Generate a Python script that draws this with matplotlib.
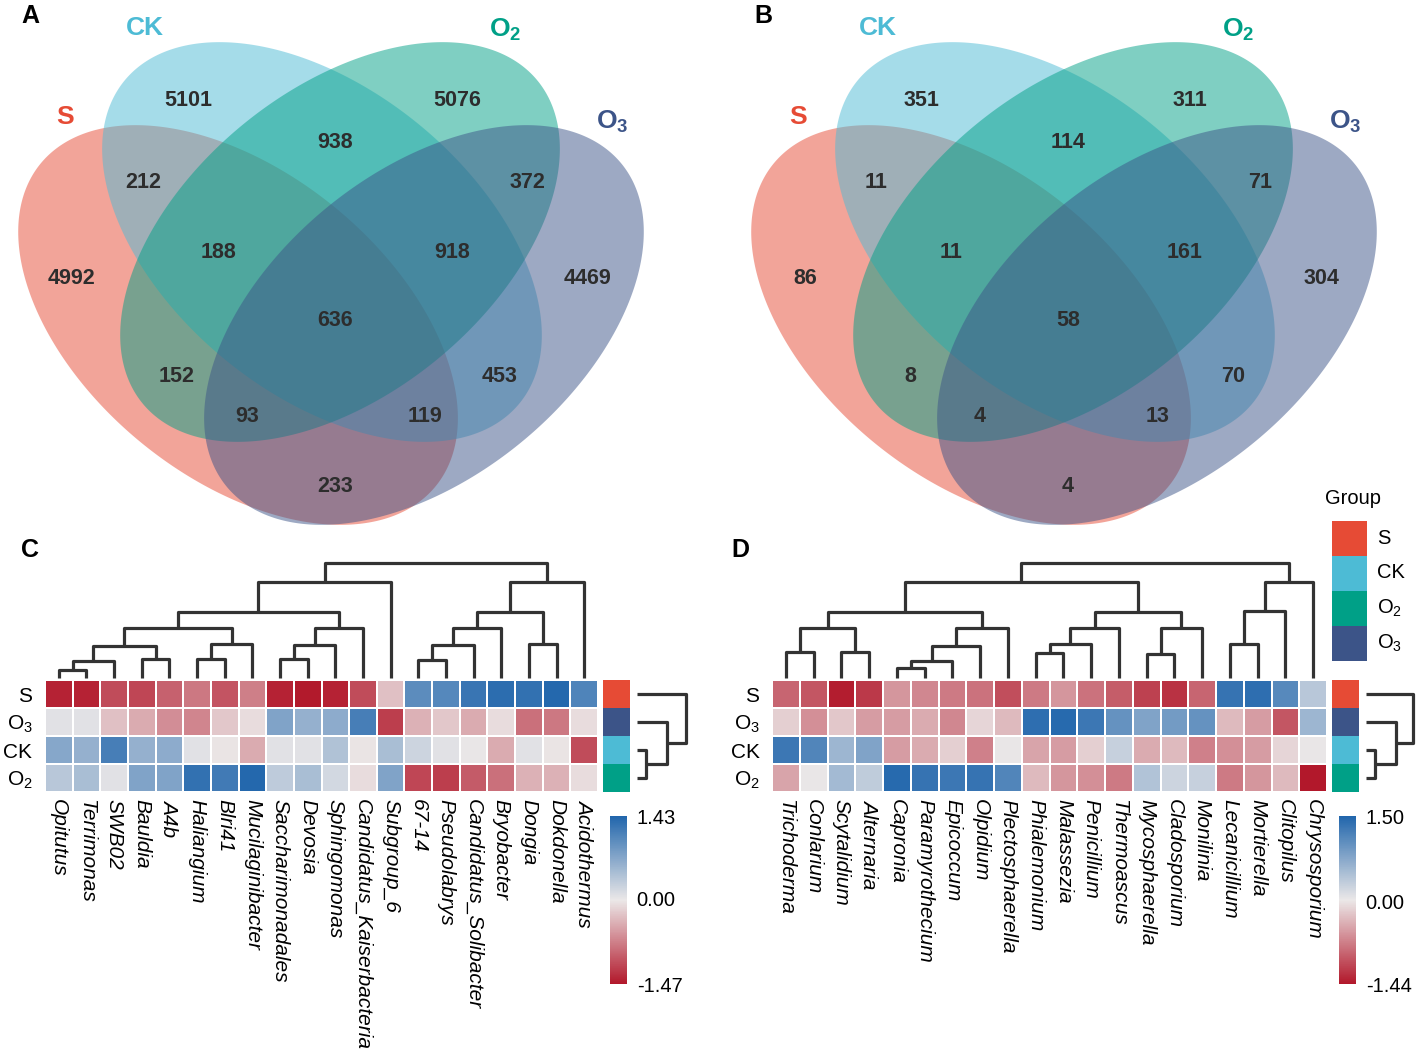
import numpy as np
import matplotlib
matplotlib.use("Agg")
import matplotlib.pyplot as plt
from matplotlib.patches import Rectangle
from matplotlib.colors import LinearSegmentedColormap, Normalize
from matplotlib.cm import ScalarMappable

plt.rcParams['font.family'] = ['Liberation Sans', 'DejaVu Sans']
plt.rcParams['mathtext.default'] = 'regular'

W, H = 1417, 1049

# ---------------- data ----------------
group_names = ["S", "CK", "O$_2$", "O$_3$"]
group_colors = ["#E64B35", "#4DBBD5", "#00A087", "#3C5488"]

# venn counts; region order:
# CK, O2, CK&O2, S&CK, O2&O3, S&CK&O2, CK&O2&O3, S, O3, all, S&O2, CK&O3, S&O2&O3, S&CK&O3, S&O3
venn_bacteria = [5101, 5076, 938, 212, 372, 188, 918, 4992, 4469, 636, 152, 453, 93, 119, 233]
venn_fungi = [351, 311, 114, 11, 71, 11, 161, 86, 304, 58, 8, 70, 4, 13, 4]

heat_rows = ["S", "O$_3$", "CK", "O$_2$"]
heat_row_colors = ["#E64B35", "#3C5488", "#4DBBD5", "#00A087"]

genus_bac = ["Opitutus", "Terrimonas", "SWB02", "Bauldia", "A4b", "Haliangium", "Blri41",
             "Mucilaginibacter", "Saccharimonadales", "Devosia", "Sphingomonas",
             "Candidatus_Kaiserbacteria", "Subgroup_6", "67-14", "Pseudolabrys",
             "Candidatus_Solibacter", "Bryobacter", "Dongia", "Dokdonella", "Acidothermus"]
bac_S = [-1.40, -1.40, -1.10, -1.15, -0.95, -0.80, -1.05, -0.75, -1.40, -1.45, -1.40, -1.10,
         -0.30, 1.00, 1.05, 1.25, 1.35, 1.30, 1.40, 1.10]
bac_O3 = [0.05, 0.05, -0.30, -0.45, -0.65, -0.70, -0.25, -0.10, 0.75, 0.60, 0.65, 1.15,
          -1.20, -0.40, -0.25, -0.45, -0.10, -0.85, -0.80, -0.10]
bac_CK = [0.70, 0.60, 1.15, 0.60, 0.65, 0.05, -0.05, -0.45, 0.05, 0.05, 0.40, -0.05,
          0.45, 0.20, 0.05, 0.00, -0.45, 0.05, -0.05, -1.10]
bac_O2 = [0.35, 0.45, 0.05, 0.75, 0.75, 1.30, 1.20, 1.40, 0.30, 0.45, 0.15, -0.10,
          0.75, -1.15, -1.20, -1.00, -0.85, -0.40, -0.40, -0.10]
bac_range = (-1.47, 1.43)

genus_fun = ["Trichoderma", "Conlarium", "Scytalidium", "Alternaria", "Capronia",
             "Paramyrothecium", "Epicoccum", "Olpidium", "Plectosphaerella", "Phialemonium",
             "Malassezia", "Penicillium", "Thermoascus", "Mycosphaerella", "Cladosporium",
             "Monilinia", "Lecanicillium", "Mortierella", "Clitopilus", "Chrysosporium"]
fun_S = [-0.90, -1.00, -1.40, -1.20, -0.55, -0.65, -0.75, -0.80, -1.05, -0.75, -0.55, -0.80,
         -0.95, -1.15, -1.25, -0.90, 1.35, 1.40, 1.10, 0.40]
fun_O3 = [-0.15, -0.60, -0.20, -0.50, -0.50, -0.40, -0.65, -0.10, -0.30, 1.40, 1.45, 1.30,
          1.00, 0.80, 0.90, 1.00, -0.30, -0.50, -1.00, 0.60]
fun_CK = [1.30, 1.15, 0.60, 0.80, -0.50, -0.40, -0.15, -0.70, 0.05, -0.45, -0.50, -0.15,
          0.30, -0.40, -0.30, -0.70, -0.60, -0.50, -0.10, 0.05]
fun_O2 = [-0.45, 0.05, 0.55, 0.35, 1.45, 1.35, 1.30, 1.35, 1.15, -0.30, -0.55, -0.60,
          -0.75, 0.45, 0.25, 0.30, -0.75, -0.55, -0.30, -1.44]
fun_range = (-1.44, 1.50)

# dendrograms: (child a, child b, merge height); leaves 0..n-1, merged nodes n, n+1, ...
col_link_bac = [(0, 1, 25), (20, 2, 53), (3, 4, 60), (21, 22, 100), (5, 6, 60), (24, 7, 107),
                (23, 25, 157), (8, 9, 60), (27, 10, 103), (28, 11, 157), (26, 29, 207),
                (30, 12, 302), (13, 14, 55), (32, 15, 103), (33, 16, 157), (17, 18, 107),
                (34, 35, 207), (36, 19, 302), (31, 37, 360)]
col_link_fun = [(0, 1, 80), (2, 3, 80), (20, 21, 157), (4, 5, 30), (23, 6, 53), (24, 7, 100),
                (25, 8, 157), (22, 26, 207), (9, 10, 77), (28, 11, 105), (29, 12, 157),
                (13, 14, 75), (31, 15, 157), (30, 32, 207), (27, 33, 300), (16, 17, 105),
                (35, 18, 210), (36, 19, 300), (34, 37, 360)]
row_link_bac = [(2, 3, 20), (1, 4, 70), (0, 5, 115)]
row_link_fun = [(2, 3, 20), (1, 4, 70), (0, 5, 110)]

# ---------------- helpers ----------------
cmap = LinearSegmentedColormap.from_list("rb", ["#B2182B", "#EBE8E8", "#2166AC"])
dendro_col = "#333333"


def px_axes(fig, x0, y0, x1, y1):
    return fig.add_axes([x0 / W, 1 - y1 / H, (x1 - x0) / W, (y1 - y0) / H])


def draw_dendro(ax, link, n, horizontal=False):
    pos = {i: i + 0.5 for i in range(n)}
    hgt = {i: 0.0 for i in range(n)}
    for k, (a, b, h) in enumerate(link):
        xa, xb = pos[a], pos[b]
        xs = [xa, xa, xb, xb]
        ys = [hgt[a], h, h, hgt[b]]
        if horizontal:
            ax.plot(ys, xs, color=dendro_col, lw=2.3, solid_capstyle='butt', clip_on=False)
        else:
            ax.plot(xs, ys, color=dendro_col, lw=2.3, solid_capstyle='butt', clip_on=False)
        pos[n + k] = (xa + xb) / 2
        hgt[n + k] = h
    ax.axis('off')


fig = plt.figure(figsize=(W / 100, H / 100), dpi=100)
bg = fig.add_axes([0, 0, 1, 1])
bg.set_xlim(0, W)
bg.set_ylim(H, 0)
bg.axis('off')

# ---------------- venn panels ----------------
ell_geom = [(-84.5, 325, 1), (-8.2, 242, 1), (8.2, 242, -1), (84.5, 325, -1)]
ell_a, ell_b, stretch = 242, 146, 1.1
num_pos = [(188, 100), (457, 100), (335, 142), (143, 183), (527, 183), (218, 252), (452, 252),
           (72, 279), (588, 279), (335, 320), (177, 376), (500, 376), (247, 417), (425, 417),
           (335, 486)]
set_label_pos = [(65, 117), (145, 28), (505, 30), (612, 122)]


def draw_venn(xoff, counts, letter):
    mid = 331 + xoff
    t = np.linspace(0, 2 * np.pi, 400)
    for (dx, cy, tilt), col in zip(ell_geom, group_colors):
        ux, uy = 1 / np.sqrt(2), tilt / np.sqrt(2)
        vx, vy = -uy, ux
        xs = mid + stretch * (dx + ell_a * np.cos(t) * ux + ell_b * np.sin(t) * vx)
        ys = cy + ell_a * np.cos(t) * uy + ell_b * np.sin(t) * vy
        bg.fill(xs, ys, color=col, alpha=0.5, lw=0)
    for (x, y), c in zip(num_pos, counts):
        bg.text(x + xoff, y, str(c), ha='center', va='center', fontsize=15.5,
                fontweight='bold', color="#2d2d2d")
    for (x, y), name, col in zip(set_label_pos, group_names, group_colors):
        bg.text(x + xoff, y, name, ha='center', va='center', fontsize=19,
                fontweight='bold', color=col)
    bg.text(30 + xoff, 16, letter, ha='center', va='center', fontsize=18,
            fontweight='bold', color='black')


draw_venn(0, venn_bacteria, "A")
draw_venn(733, venn_fungi, "B")

# ---------------- heatmap panels ----------------


def draw_heat(x0, x1, genera, z, zr, col_link, row_link, letter, letter_x):
    n = len(genera)
    norm = Normalize(vmin=zr[0], vmax=zr[1])
    ax = px_axes(fig, x0, 680, x1, 792)
    ax.pcolormesh(np.arange(n + 1), np.arange(5), np.array(z), cmap=cmap, norm=norm,
                  edgecolors='white', linewidth=1.2)
    ax.set_xlim(0, n)
    ax.set_ylim(4, 0)
    for s in ax.spines.values():
        s.set_visible(False)
    ax.set_yticks(np.arange(4) + 0.5)
    ax.set_yticklabels(heat_rows, fontsize=15)
    ax.set_xticks(np.arange(n) + 0.5)
    ax.set_xticklabels(genera, rotation=270, fontsize=15, fontstyle='italic')
    ax.tick_params(axis='x', length=0, pad=5)
    ax.tick_params(axis='y', length=0, pad=9)

    # column dendrogram
    axd = px_axes(fig, x0, 563, x1, 678)
    draw_dendro(axd, col_link, n)
    axd.set_xlim(0, n)
    axd.set_ylim(0, 360)

    # group annotation
    axg = px_axes(fig, x1 + 5, 680, x1 + 32, 792)
    for i, c in enumerate(heat_row_colors):
        axg.add_patch(Rectangle((0, i), 1, 1, color=c, lw=0))
    axg.set_xlim(0, 1)
    axg.set_ylim(4, 0)
    axg.axis('off')

    # row dendrogram
    axr = px_axes(fig, x1 + 39, 680, x1 + 88, 792)
    draw_dendro(axr, row_link, 4, horizontal=True)
    axr.set_xlim(0, 115)
    axr.set_ylim(4, 0)

    # colorbar
    cax = px_axes(fig, x1 + 12, 816, x1 + 29, 984)
    cb = fig.colorbar(ScalarMappable(norm=norm, cmap=cmap), cax=cax,
                      ticks=[zr[1], 0, zr[0]])
    cb.ax.set_yticklabels(["%.2f" % zr[1], "0.00", "%.2f" % zr[0]], fontsize=14.5)
    cb.ax.tick_params(length=0, pad=7)
    cb.outline.set_visible(False)

    bg.text(letter_x, 550, letter, ha='center', va='center', fontsize=18,
            fontweight='bold', color='black')


draw_heat(45, 598, genus_bac, [bac_S, bac_O3, bac_CK, bac_O2], bac_range,
          col_link_bac, row_link_bac, "C", 30)
draw_heat(772, 1327, genus_fun, [fun_S, fun_O3, fun_CK, fun_O2], fun_range,
          col_link_fun, row_link_fun, "D", 740)

# group legend
bg.text(1353, 499, "Group", ha='center', va='center', fontsize=14.5)
leg_names = ["S", "CK", "O$_2$", "O$_3$"]
for i, (name, col) in enumerate(zip(leg_names, group_colors)):
    bg.add_patch(Rectangle((1332, 521 + 35 * i), 35, 35, color=col, lw=0))
    bg.text(1377, 538 + 35 * i, name, ha='left', va='center', fontsize=14.5)

fig.savefig("out.png", dpi=100)
